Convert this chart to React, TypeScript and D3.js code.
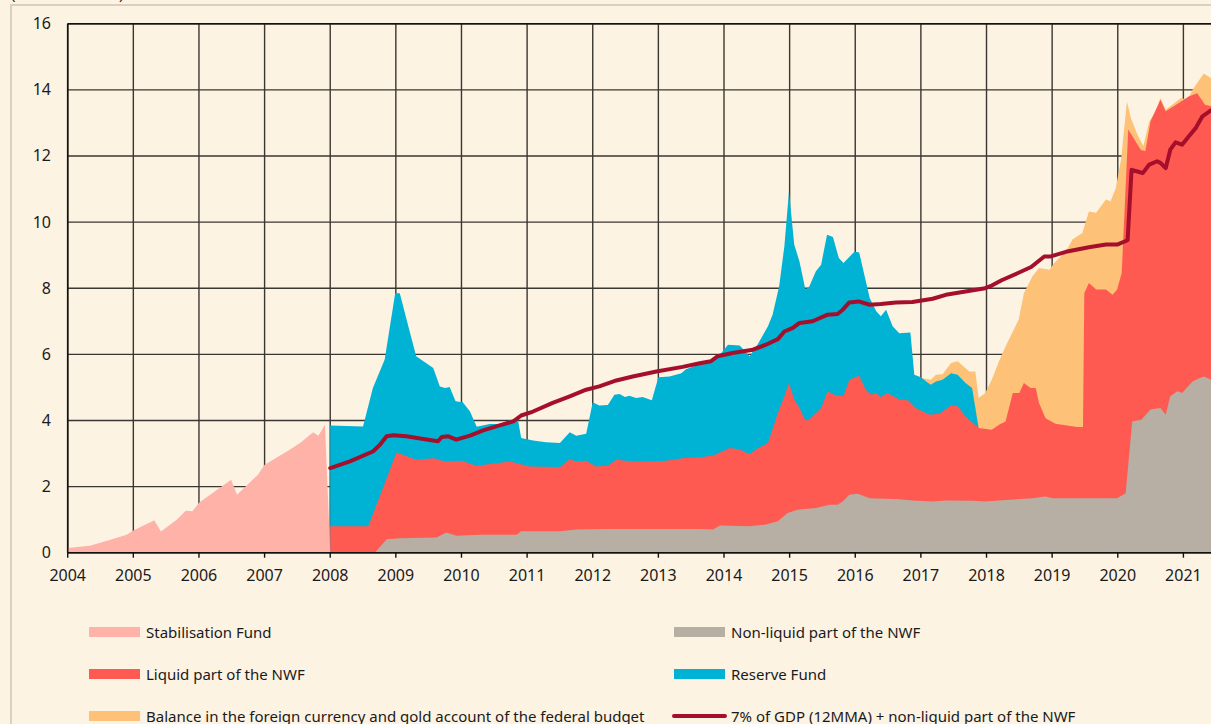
import * as d3 from "d3";

// stacked levels (trillion roubles)
const stabilisationFund: [number, number][] = [
  [2004.0, 0.14], [2004.34, 0.21], [2004.65, 0.39], [2004.9, 0.54], [2005.0, 0.67], [2005.32, 0.98],
  [2005.42, 0.64], [2005.66, 1.0], [2005.8, 1.27], [2005.9, 1.25], [2006.0, 1.51], [2006.49, 2.21],
  [2006.58, 1.75], [2006.9, 2.36], [2007.0, 2.66], [2007.13, 2.81], [2007.34, 3.06], [2007.54, 3.32],
  [2007.74, 3.64], [2007.82, 3.54], [2007.92, 3.87], [2008.0, 0],
];

const nonLiquidNWF: [number, number][] = [
  [2008.0, 0], [2008.68, 0], [2008.86, 0.41], [2009.06, 0.44], [2009.62, 0.46], [2009.77, 0.61],
  [2009.92, 0.51], [2010.28, 0.54], [2010.84, 0.54], [2010.91, 0.65], [2011.5, 0.65], [2011.75, 0.7],
  [2012.26, 0.72], [2013.63, 0.72], [2013.83, 0.7], [2013.94, 0.82], [2014.39, 0.8], [2014.64, 0.85],
  [2014.82, 0.95], [2014.97, 1.2], [2015.12, 1.3], [2015.4, 1.35], [2015.61, 1.45], [2015.73, 1.45],
  [2015.81, 1.55], [2015.91, 1.75], [2016.04, 1.78], [2016.22, 1.65], [2016.67, 1.62], [2016.87, 1.58],
  [2017.18, 1.55], [2017.38, 1.58], [2017.78, 1.57], [2017.98, 1.55], [2018.19, 1.58], [2018.7, 1.65],
  [2018.9, 1.7], [2019.0, 1.65], [2019.99, 1.65], [2020.12, 1.8], [2020.22, 3.97], [2020.36, 4.02],
  [2020.5, 4.33], [2020.65, 4.38], [2020.73, 4.17], [2020.8, 4.73], [2020.91, 4.88], [2020.98, 4.83],
  [2021.14, 5.18], [2021.24, 5.28], [2021.31, 5.33], [2021.42, 5.23],
];

// non-liquid + liquid part of the NWF
const liquidNWF: [number, number][] = [
  [2008.0, 0.8], [2008.58, 0.8], [2009.01, 3.03], [2009.31, 2.81], [2009.57, 2.86], [2009.75, 2.76],
  [2010.0, 2.78], [2010.23, 2.63], [2010.74, 2.76], [2011.04, 2.61], [2011.5, 2.59], [2011.65, 2.83],
  [2011.75, 2.76], [2011.9, 2.78], [2012.05, 2.61], [2012.23, 2.63], [2012.36, 2.81], [2012.61, 2.76],
  [2012.86, 2.76], [2013.12, 2.78], [2013.37, 2.86], [2013.63, 2.89], [2013.83, 2.93], [2014.09, 3.17],
  [2014.24, 3.12], [2014.39, 2.98], [2014.51, 3.15], [2014.67, 3.32], [2014.82, 4.22], [2014.92, 4.73],
  [2014.99, 5.13], [2015.07, 4.63], [2015.15, 4.38], [2015.24, 4.0], [2015.3, 4.03], [2015.48, 4.38],
  [2015.58, 4.88], [2015.68, 4.78], [2015.82, 4.73], [2015.91, 5.23], [2016.06, 5.35], [2016.16, 4.93],
  [2016.24, 4.78], [2016.32, 4.83], [2016.39, 4.71], [2016.49, 4.83], [2016.67, 4.63], [2016.81, 4.6],
  [2016.92, 4.38], [2017.13, 4.17], [2017.28, 4.2], [2017.46, 4.45], [2017.56, 4.43], [2017.68, 4.12],
  [2017.88, 3.77], [2018.08, 3.72], [2018.19, 3.87], [2018.29, 3.97], [2018.4, 4.83], [2018.5, 4.83],
  [2018.57, 5.13], [2018.67, 4.98], [2018.75, 4.98], [2018.8, 4.53], [2018.9, 4.07], [2019.05, 3.9],
  [2019.38, 3.8], [2019.47, 3.8], [2019.49, 7.85], [2019.56, 8.16], [2019.67, 7.96], [2019.82, 7.96],
  [2019.92, 7.8], [2019.99, 7.96], [2020.06, 8.46], [2020.16, 12.8], [2020.35, 12.19], [2020.42, 12.14],
  [2020.5, 13.05], [2020.65, 13.7], [2020.73, 13.35], [2020.93, 13.6], [2021.08, 13.8], [2021.21, 13.9],
  [2021.33, 13.55], [2021.42, 13.5],
];

// NWF + Reserve Fund
const reserveFund: [number, number][] = [
  [2008.0, 3.85], [2008.5, 3.82], [2008.65, 4.98], [2008.83, 5.84], [2008.99, 7.85], [2009.06, 7.85],
  [2009.19, 6.85], [2009.31, 5.94], [2009.57, 5.59], [2009.67, 5.03], [2009.75, 4.98], [2009.82, 5.01],
  [2009.91, 4.58], [2010.02, 4.55], [2010.13, 4.27], [2010.23, 3.82], [2010.25, 3.82], [2010.43, 3.89],
  [2010.58, 3.89], [2010.79, 4.04], [2010.86, 4.02], [2010.91, 3.47], [2011.09, 3.39], [2011.29, 3.34],
  [2011.5, 3.32], [2011.65, 3.64], [2011.75, 3.54], [2011.9, 3.6], [2012.0, 4.55], [2012.1, 4.45],
  [2012.23, 4.47], [2012.33, 4.78], [2012.41, 4.8], [2012.49, 4.71], [2012.56, 4.75], [2012.66, 4.68],
  [2012.76, 4.71], [2012.9, 4.61], [2013.0, 5.31], [2013.17, 5.33], [2013.35, 5.43], [2013.42, 5.55],
  [2013.63, 5.7], [2013.8, 5.8], [2013.96, 6.04], [2014.06, 6.29], [2014.24, 6.27], [2014.39, 5.94],
  [2014.51, 6.29], [2014.67, 6.85], [2014.74, 7.2], [2014.84, 8.05], [2014.92, 9.27], [2014.99, 10.93],
  [2015.07, 9.32], [2015.15, 8.81], [2015.24, 7.96], [2015.3, 8.05], [2015.4, 8.51], [2015.48, 8.71],
  [2015.57, 9.62], [2015.66, 9.55], [2015.75, 8.91], [2015.82, 8.76], [2015.99, 9.11], [2016.06, 9.08],
  [2016.22, 7.7], [2016.32, 7.3], [2016.39, 7.15], [2016.47, 7.35], [2016.57, 6.85], [2016.67, 6.64],
  [2016.84, 6.66], [2016.9, 5.38], [2017.0, 5.31], [2017.08, 5.18], [2017.15, 5.08], [2017.23, 5.18],
  [2017.33, 5.23], [2017.46, 5.43], [2017.56, 5.38], [2017.68, 5.13], [2017.78, 4.98], [2017.88, 3.77],
];

// everything + balance of the FX and gold account
const fxBalance: [number, number][] = [
  [2016.95, 5.3], [2017.03, 5.28], [2017.15, 5.23], [2017.23, 5.38], [2017.33, 5.4], [2017.46, 5.74],
  [2017.56, 5.79], [2017.74, 5.48], [2017.83, 5.48], [2017.88, 4.68], [2017.98, 4.83], [2018.08, 5.23],
  [2018.19, 5.79], [2018.29, 6.24], [2018.34, 6.44], [2018.49, 7.05], [2018.57, 7.85], [2018.7, 8.36],
  [2018.8, 8.61], [2018.96, 8.56], [2019.03, 8.76], [2019.21, 9.11], [2019.31, 9.47], [2019.46, 9.67],
  [2019.56, 10.32], [2019.67, 10.28], [2019.82, 10.68], [2019.89, 10.63], [2019.97, 11.03], [2020.05, 11.89],
  [2020.14, 13.65], [2020.2, 13.15], [2020.3, 12.64], [2020.39, 12.3], [2020.48, 13.05], [2020.58, 13.35],
  [2020.65, 13.75], [2020.73, 13.4], [2020.83, 13.55], [2020.96, 13.75], [2021.06, 13.7], [2021.14, 14.0],
  [2021.31, 14.49], [2021.42, 14.36],
];

const gdpLine: [number, number][] = [
  [2008.0, 2.56], [2008.3, 2.76], [2008.65, 3.06], [2008.76, 3.27], [2008.86, 3.52], [2008.96, 3.55],
  [2009.16, 3.52], [2009.42, 3.44], [2009.64, 3.37], [2009.7, 3.5], [2009.8, 3.52], [2009.92, 3.42],
  [2010.13, 3.54], [2010.33, 3.7], [2010.58, 3.85], [2010.79, 3.97], [2010.91, 4.15], [2011.09, 4.27],
  [2011.39, 4.53], [2011.65, 4.73], [2011.9, 4.93], [2012.1, 5.03], [2012.36, 5.21], [2012.61, 5.33],
  [2012.97, 5.48], [2013.37, 5.62], [2013.63, 5.73], [2013.8, 5.79], [2013.9, 5.94], [2014.13, 6.04],
  [2014.44, 6.14], [2014.64, 6.29], [2014.82, 6.46], [2014.92, 6.69], [2015.05, 6.8], [2015.15, 6.95],
  [2015.35, 7.0], [2015.58, 7.2], [2015.73, 7.22], [2015.81, 7.35], [2015.91, 7.57], [2016.05, 7.6],
  [2016.22, 7.5], [2016.39, 7.52], [2016.62, 7.57], [2016.87, 7.58], [2017.18, 7.68], [2017.38, 7.8],
  [2017.68, 7.9], [2017.98, 8.0], [2018.08, 8.08], [2018.23, 8.24], [2018.48, 8.46], [2018.68, 8.64],
  [2018.88, 8.96], [2018.98, 8.96], [2019.21, 9.1], [2019.56, 9.24], [2019.82, 9.32], [2019.99, 9.32],
  [2020.15, 9.45], [2020.21, 11.58], [2020.3, 11.53], [2020.38, 11.48], [2020.48, 11.74], [2020.6, 11.84],
  [2020.65, 11.79], [2020.73, 11.63], [2020.8, 12.19], [2020.88, 12.41], [2020.98, 12.34], [2021.08, 12.59],
  [2021.19, 12.85], [2021.29, 13.2], [2021.42, 13.38],
];

const yearTicks = d3.range(2004, 2022);
const valueTicks = d3.range(0, 17, 2);

const legendLeft = [
  { label: "Stabilisation Fund", color: "#feb2a8", kind: "area" },
  { label: "Liquid part of the NWF", color: "#ff5a52", kind: "area" },
  { label: "Balance in the foreign currency and gold account of the federal budget", color: "#fdc177", kind: "area" },
];
const legendRight = [
  { label: "Non-liquid part of the NWF", color: "#b8afa4", kind: "area" },
  { label: "Reserve Fund", color: "#00b2d4", kind: "area" },
  { label: "7% of GDP (12MMA) + non-liquid part of the NWF", color: "#a60f2b", kind: "line" },
];

const W = 1211;
const H = 724;
const FONT = "'Noto Sans', sans-serif";

export default function App() {
  const x = d3.scaleLinear().domain([2004, 2021]).range([67.7, 1183.4]);
  const y = d3.scaleLinear().domain([0, 16]).range([552.7, 23.7]);
  const plotRight = W;

  const area = d3.area<[number, number]>()
    .x((d) => x(d[0]))
    .y0(y(0))
    .y1((d) => y(d[1]));
  const line = d3.line<[number, number]>()
    .x((d) => x(d[0]))
    .y((d) => y(d[1]));

  const layers = [
    { data: fxBalance, color: "#fdc177" },
    { data: reserveFund, color: "#00b2d4" },
    { data: liquidNWF, color: "#ff5a52" },
    { data: nonLiquidNWF, color: "#b8afa4" },
    { data: stabilisationFund, color: "#feb2a8" },
  ];

  const gridColor = "#3a3631";

  return (
    <svg
      width={W}
      height={H}
      style={{ position: "absolute", left: 0, top: 0, display: "block" }}
      fontFamily={FONT}
    >
      <rect x={0} y={0} width={W} height={H} fill="#fdf3e3" />
      <rect x={11} y={5} width={W + 20} height={H + 20} fill="none" stroke="#d9d0c3" strokeWidth={2} />
      <text x={11} y={-1} fontSize={15} fill="#1a1a1a">(in RUB trillions)</text>

      {/* grid */}
      {valueTicks.map((v) => (
        <line key={`h-${v}`} x1={x(2004)} x2={plotRight} y1={y(v)} y2={y(v)}
          stroke={gridColor} strokeWidth={1.4} />
      ))}
      {yearTicks.map((yr) => (
        <line key={`v-${yr}`} x1={x(yr)} x2={x(yr)} y1={y(16)} y2={y(0)}
          stroke={gridColor} strokeWidth={1.4} />
      ))}

      {layers.map((l, i) => (
        <path key={`a-${i}`} d={area(l.data) || ""} fill={l.color} />
      ))}

      <path d={line(gdpLine) || ""} fill="none" stroke="#a60f2b" strokeWidth={4}
        strokeLinejoin="round" strokeLinecap="round" />

      {/* axes */}
      <line x1={x(2004)} x2={plotRight} y1={y(0)} y2={y(0)} stroke="#111" strokeWidth={1.6} />
      <line x1={x(2004)} x2={x(2004)} y1={y(16)} y2={y(0)} stroke="#111" strokeWidth={1.6} />
      <line x1={x(2004)} x2={plotRight} y1={y(16)} y2={y(16)} stroke="#111" strokeWidth={1.4} />
      {yearTicks.map((yr) => (
        <g key={`xt-${yr}`}>
          <line x1={x(yr)} x2={x(yr)} y1={y(0)} y2={y(0) + 5} stroke="#111" strokeWidth={1.4} />
          <text x={x(yr)} y={581} textAnchor="middle" fontSize={16} fill="#1a1a1a">{yr}</text>
        </g>
      ))}
      {valueTicks.map((v) => (
        <text key={`yt-${v}`} x={51} y={y(v) + 5.5} textAnchor="end" fontSize={16} fill="#1a1a1a">{v}</text>
      ))}

      {/* legend */}
      {[{ items: legendLeft, sx: 89, tx: 146 }, { items: legendRight, sx: 674, tx: 731 }].map((col, ci) => (
        <g key={`lg-${ci}`}>
          {col.items.map((it, i) => {
            const cy = 632 + i * 42;
            return (
              <g key={it.label}>
                {it.kind === "area" ? (
                  <rect x={col.sx} y={cy - 5} width={51} height={10} fill={it.color} />
                ) : (
                  <line x1={col.sx} x2={col.sx + 51} y1={cy} y2={cy} stroke={it.color}
                    strokeWidth={4} strokeLinecap="round" />
                )}
                <text x={col.tx} y={cy + 5.5} fontSize={15} fill="#1a1a1a">{it.label}</text>
              </g>
            );
          })}
        </g>
      ))}
    </svg>
  );
}
